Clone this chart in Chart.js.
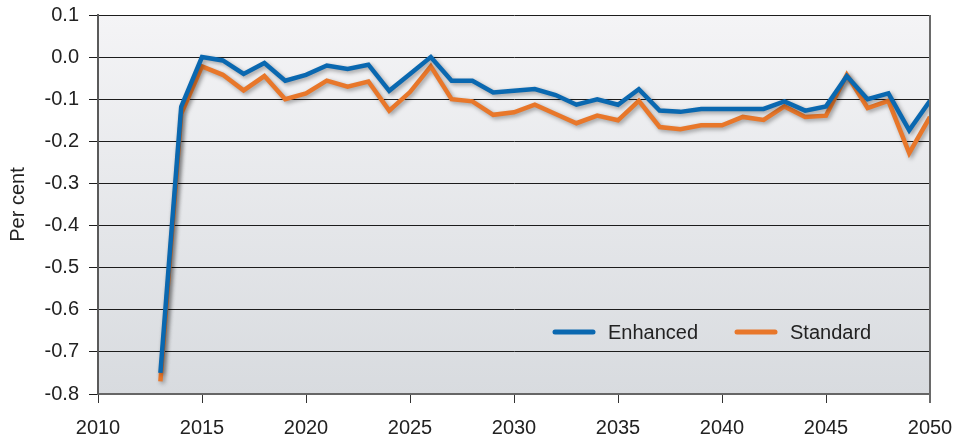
<!DOCTYPE html>
<html>
<head>
<meta charset="utf-8">
<script src="https://cdn.jsdelivr.net/npm/chart.js@4/dist/chart.umd.min.js"></script>
<style>
html,body{margin:0;padding:0;background:#fff;}
#wrap{width:953px;height:438px;}
</style>
</head>
<body>
<div id="wrap"><canvas id="c" width="953" height="438"></canvas></div>
<script>
const years = [2013,2014,2015,2016,2017,2018,2019,2020,2021,2022,2023,2024,2025,2026,2027,2028,2029,2030,2031,2032,2033,2034,2035,2036,2037,2038,2039,2040,2041,2042,2043,2044,2045,2046,2047,2048,2049,2050];
const enhanced = [-0.75,-0.118,0.0,-0.008,-0.04,-0.014,-0.056,-0.042,-0.02,-0.028,-0.018,-0.08,-0.04,0.0,-0.056,-0.056,-0.084,-0.08,-0.076,-0.09,-0.113,-0.1,-0.113,-0.076,-0.127,-0.13,-0.123,-0.123,-0.123,-0.123,-0.105,-0.127,-0.117,-0.045,-0.1,-0.086,-0.174,-0.104];
const standard = [-0.77,-0.135,-0.022,-0.042,-0.079,-0.045,-0.1,-0.086,-0.056,-0.07,-0.058,-0.127,-0.083,-0.022,-0.1,-0.105,-0.137,-0.131,-0.113,-0.135,-0.157,-0.139,-0.15,-0.104,-0.166,-0.171,-0.162,-0.162,-0.142,-0.149,-0.117,-0.142,-0.139,-0.042,-0.121,-0.104,-0.228,-0.142];
const seriesNames = ['Enhanced','Standard'];
const seriesColors = ['#0a68b0','#e8772a'];
const yTicks = {min:-0.8, max:0.1, step:0.1};
const xTicks = {min:2010, max:2050, step:5};

const FONT = "'Liberation Sans', Arial, Helvetica, sans-serif";

const bgPlugin = {
  id:'bg',
  beforeDraw(chart){
    const {ctx, chartArea:a} = chart;
    const g = ctx.createLinearGradient(0,a.top,0,a.bottom);
    g.addColorStop(0,'#f4f4f6');
    g.addColorStop(1,'#d8dbdf');
    ctx.save();
    ctx.fillStyle = g;
    ctx.fillRect(a.left,a.top,a.right-a.left,a.bottom-a.top);
    ctx.restore();
  },
  beforeDatasetsDraw(chart){
    const ctx = chart.ctx;
    ctx.save();
    ctx.shadowColor = 'rgba(0,0,0,0.35)';
    ctx.shadowBlur = 4;
    ctx.shadowOffsetX = 2;
    ctx.shadowOffsetY = 2;
  },
  afterDatasetsDraw(chart){
    chart.ctx.restore();
  },
  afterDraw(chart){
    const {ctx, chartArea:a} = chart;
    ctx.save();
    ctx.strokeStyle = '#6a6a6a';
    ctx.lineWidth = 2;
    ctx.beginPath();
    ctx.moveTo(a.right, a.top);
    ctx.lineTo(a.right, a.bottom+9);
    ctx.stroke();
    // legend
    const items = chart.data.datasets;
    const xs = [553, 735];
    const ly = 332;
    ctx.font = "20px " + FONT;
    ctx.textBaseline = 'middle';
    ctx.textAlign = 'left';
    items.forEach((ds,i)=>{
      ctx.strokeStyle = ds.borderColor;
      ctx.lineWidth = 5;
      ctx.lineCap = 'round';
      ctx.beginPath();
      ctx.moveTo(xs[i]+2, ly);
      ctx.lineTo(xs[i]+40, ly);
      ctx.stroke();
      ctx.fillStyle = '#222';
      ctx.fillText(ds.label, xs[i]+55, ly+1);
    });
    ctx.restore();
  }
};

const mk = arr => years.map((y,i)=>({x:y, y:arr[i]}));

new Chart(document.getElementById('c'), {
  type:'line',
  data:{
    datasets:[
      {label:seriesNames[0], data:mk(enhanced), borderColor:seriesColors[0], backgroundColor:seriesColors[0], borderWidth:4.5, pointRadius:0, tension:0, borderJoinStyle:'miter', fill:false},
      {label:seriesNames[1], data:mk(standard), borderColor:seriesColors[1], backgroundColor:seriesColors[1], borderWidth:4.5, pointRadius:0, tension:0, borderJoinStyle:'miter', fill:false}
    ]
  },
  options:{
    responsive:false,
    devicePixelRatio:1,
    animation:false,
    layout:{padding:{left:0, right:23, top:15, bottom:0}},
    plugins:{legend:{display:false}, tooltip:{enabled:false}},
    scales:{
      x:{
        type:'linear', min:xTicks.min, max:xTicks.max,
        ticks:{stepSize:xTicks.step, color:'#222', font:{family:FONT, size:20}, padding:13, callback:v=>String(v), maxRotation:0},
        grid:{drawOnChartArea:false, drawTicks:true, tickLength:9, color:'#333', lineWidth:1},
        border:{display:true, color:'#666', width:2},
        afterFit(s){ s.height = 44; s.paddingLeft = 0; s.paddingRight = 0; }
      },
      y:{
        min:yTicks.min, max:yTicks.max,
        ticks:{stepSize:yTicks.step, color:'#222', font:{family:FONT, size:20}, padding:10, callback:v=>{const r=Math.round(v*10)/10; return (Math.abs(r)<1e-9?0:r).toFixed(1);}},
        grid:{color:'#1c1c1c', lineWidth:1, tickLength:9, drawTicks:true},
        border:{display:true, color:'#5a5a5a', width:2},
        title:{display:true, text:'Per cent', color:'#222', font:{family:FONT, size:20}, padding:{top:6,bottom:0}},
        afterFit(s){ s.width = 98; s.paddingTop = 0; s.paddingBottom = 0; }
      }
    }
  },
  plugins:[bgPlugin]
});
</script>
</body>
</html>
